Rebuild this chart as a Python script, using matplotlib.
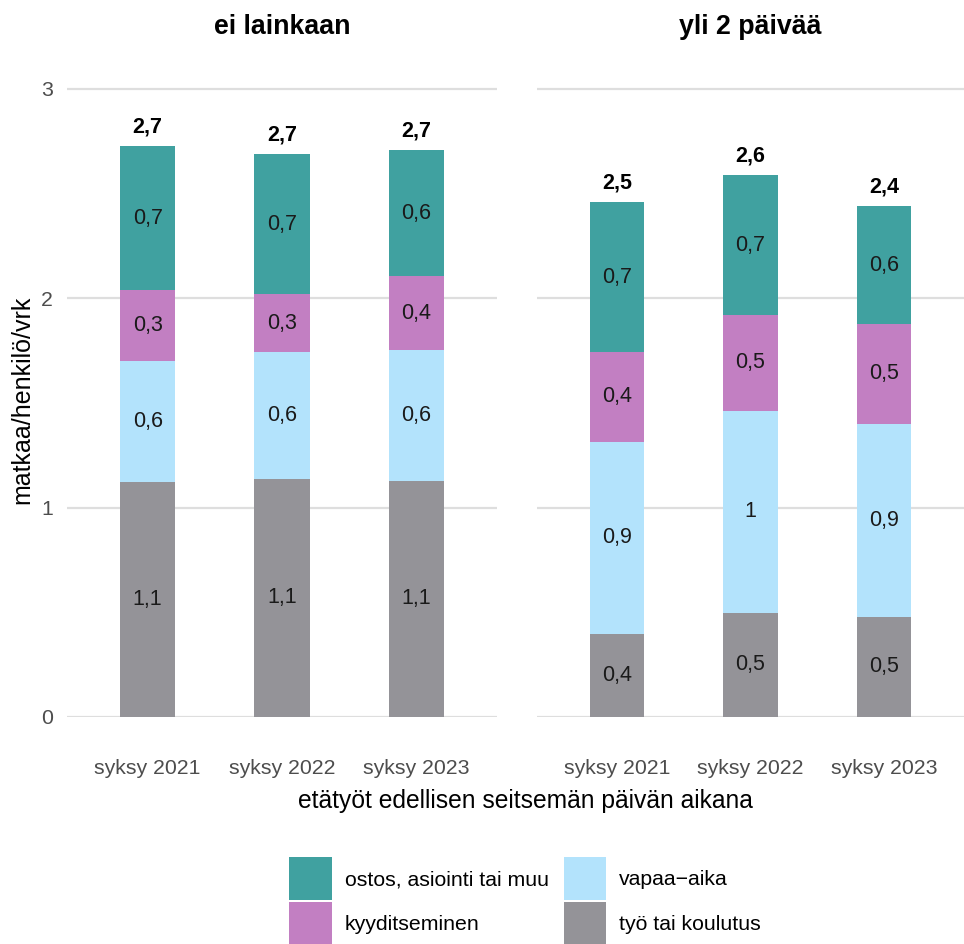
import matplotlib as mpl
import matplotlib.pyplot as plt
import numpy as np

mpl.rcParams.update({"font.family": ["Liberation Sans", "DejaVu Sans"]})

# data
years = ["syksy 2021", "syksy 2022", "syksy 2023"]
panels = ["ei lainkaan", "yli 2 päivää"]
categories = ["työ tai koulutus", "vapaa\u2212aika", "kyyditseminen", "ostos, asiointi tai muu"]
colors = ["#949398", "#B3E3FC", "#C27FC2", "#40A1A0"]

work_ei = [1.124, 1.139, 1.129]
leisure_ei = [0.579, 0.603, 0.622]
ride_ei = [0.335, 0.277, 0.354]
shop_ei = [0.689, 0.670, 0.603]

work_yli = [0.397, 0.498, 0.478]
leisure_yli = [0.919, 0.966, 0.924]
ride_yli = [0.426, 0.455, 0.474]
shop_yli = [0.717, 0.670, 0.565]

series = {
    "ei lainkaan": [work_ei, leisure_ei, ride_ei, shop_ei],
    "yli 2 päivää": [work_yli, leisure_yli, ride_yli, shop_yli],
}


def fmt(v):
    return f"{round(v, 1):g}".replace(".", ",")


W, H = 964, 944
fig = plt.figure(figsize=(W / 100, H / 100), dpi=100)

y0, y3 = 717, 89
ppu = (y0 - y3) / 3
ymax = 3.2
bottom = (H - y0) / H
height = ymax * ppu / H
axes = [fig.add_axes([67 / W, bottom, (497 - 67) / W, height]),
        fig.add_axes([537 / W, bottom, (964 - 537) / W, height])]

x = np.arange(1, 4)
for ax, name in zip(axes, panels):
    base = np.zeros(3)
    for vals, col, cat in zip(series[name], colors, categories):
        vals = np.array(vals)
        ax.bar(x, vals, width=0.41, bottom=base, color=col, label=cat, zorder=2)
        for xi, b, v in zip(x, base, vals):
            ax.text(xi, b + v / 2, fmt(v), ha="center", va="center", fontsize=15.5,
                    color="#1a1a1a", zorder=3)
        base = base + vals
    for xi, t in zip(x, base):
        ax.text(xi, t + 0.09, fmt(t), ha="center", va="center", fontsize=15.5,
                fontweight="bold", color="black", zorder=3)
    ax.set_xlim(0.4, 3.6)
    ax.set_ylim(0, ymax)
    ax.set_yticks([0, 1, 2, 3])
    ax.yaxis.grid(True, color="#DEDEDE", lw=1.6, zorder=0)
    ax.set_axisbelow(True)
    for s in ax.spines.values():
        s.set_visible(False)
    ax.tick_params(length=0, labelsize=15.3, labelcolor="#4D4D4D")
    ax.tick_params(axis="x", pad=30)
    ax.set_xticks(x)
    ax.set_xticklabels(years)
    fig.text(ax.get_position().x0 + ax.get_position().width / 2, 1 - 27 / H, name,
             ha="center", va="center", fontsize=19.3, fontweight="bold")

axes[0].tick_params(axis="y", pad=10)
axes[1].set_yticklabels([])

fig.text(525 / W, 1 - 801 / H, "etätyöt edellisen seitsemän päivän aikana",
         ha="center", va="center", fontsize=17.7)
fig.text(22 / W, 1 - 400 / H, "matkaa/henkilö/vrk", rotation=90,
         ha="center", va="center", fontsize=18)

h, l = axes[0].get_legend_handles_labels()
order = [3, 2, 1, 0]
fig.legend([h[i] for i in order], [l[i] for i in order], ncol=2,
           loc="center", bbox_to_anchor=(525 / W, 1 - 901 / H),
           frameon=False, fontsize=15.3, handlelength=2.02, handleheight=2.7,
           labelspacing=0.1, handletextpad=0.6, columnspacing=0.7, borderpad=0)

fig.savefig("out.png", dpi=100)
